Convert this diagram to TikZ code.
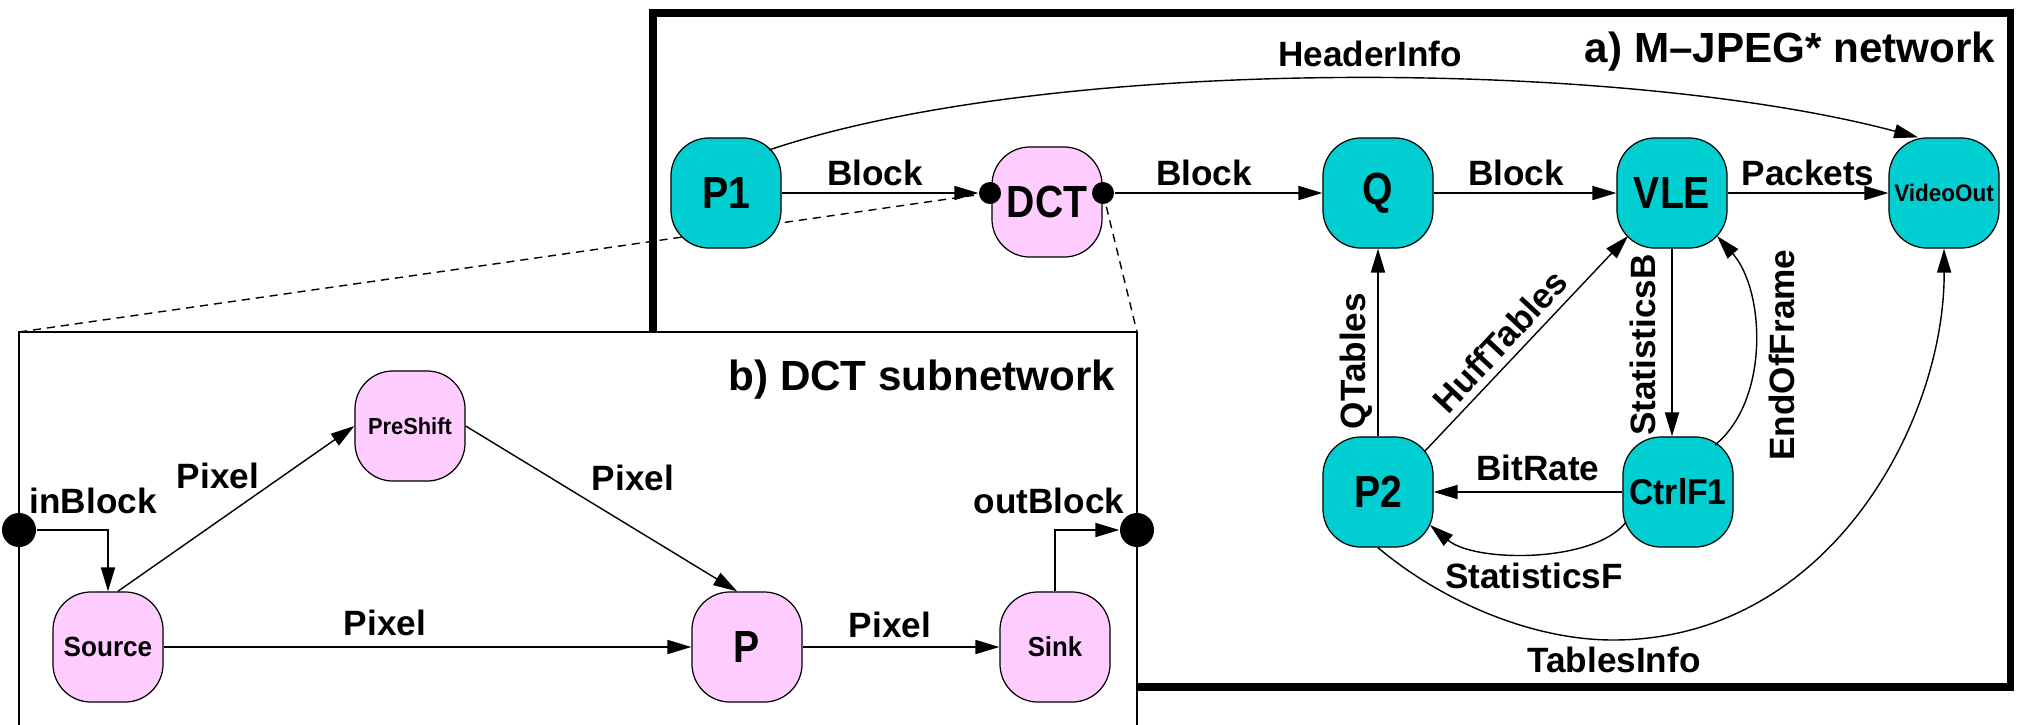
\documentclass[tikz,border=0pt]{standalone}
\usepackage{fontspec}
\setmainfont{Liberation Sans}
\newfontfamily\nodefont[FakeStretch=0.87]{Liberation Sans}
\newfontfamily\smallnodefont[FakeStretch=0.94]{Liberation Sans}
\usetikzlibrary{arrows.meta,calc}
\definecolor{teal1}{RGB}{0,206,209}
\definecolor{pink1}{RGB}{255,204,255}
\begin{document}
\begin{tikzpicture}[x=0.01cm,y=-0.01cm,
  proc/.style={draw=black,line width=0.35pt,rounded corners=0.38cm,minimum width=1.1cm,minimum height=1.1cm,inner sep=0pt,font=\nodefont\bfseries\fontsize{12.8}{13}\selectfont},
  tproc/.style={proc,fill=teal1},
  pproc/.style={proc,fill=pink1},
  port/.style={circle,fill=black,inner sep=0pt,minimum size=0.22cm},
  bigport/.style={circle,fill=black,inner sep=0pt,minimum size=0.34cm},
  lbl/.style={font=\bfseries\fontsize{10}{12}\selectfont,inner sep=0pt},
  ttl/.style={font=\bfseries\fontsize{12}{14}\selectfont,inner sep=0pt},
  arr/.style={line width=0.4pt,-{Triangle[length=6.8pt,width=4pt]}},
  dashln/.style={line width=0.4pt,dash pattern=on 2.3pt off 1.7pt}
]
\useasboundingbox (0,0) rectangle (2018,724);
\clip (0,0) rectangle (2018,724);

% frame a
\draw[line width=2pt] (653,13) rectangle (2010,687);
% frame b
\draw[fill=white,line width=0.5pt] (19,332) rectangle (1137,800);
\coordinate (bnw) at (19,332);
\coordinate (bne) at (1137,332);
\coordinate (dctinc) at (990,193);
\coordinate (dctoutc) at (1103,193);
\draw[dashln] (bnw) -- (dctinc);
\draw[dashln] (dctoutc) -- (bne);

% network a
\node[tproc] (p1) at (726,193) {P1};
\node[pproc] (dct) at (1047,202) {DCT};
\node[port] (dctin) at (dctinc) {};
\node[port] (dctout) at (dctoutc) {};
\node[tproc] (q) at (1378,193) {Q};
\node[tproc] (vle) at (1672,193) {VLE};
\node[tproc,font=\smallnodefont\bfseries\fontsize{6.8}{7}\selectfont] (vo) at (1944,193) {VideoOut};
\node[tproc] (p2) at (1378,492) {P2};
\node[tproc,font=\smallnodefont\bfseries\fontsize{10.2}{11}\selectfont] (ctrl) at (1678,492) {CtrlF1};

\draw[arr] (p1.east) -- (dctin);
\draw[arr] (dctout) -- (q.west);
\draw[arr] (q.east) -- (vle.west);
\draw[arr] (vle.east) -- (vo.west);
\draw[arr] ($(p1.center)+(43,-43)$) .. controls (1050,55) and (1620,58) .. (vo.115);
\draw[arr] (p2.north) -- (q.south);
\draw[arr] ($(p2.center)+(47,-41)$) -- ($(vle.center)+(-44,43)$);
\draw[arr] (vle.south) -- (vle.south |- ctrl.north);
\draw[arr] (ctrl.west) -- (p2.east);
\draw[arr] ($(ctrl.center)+(-52,30)$) .. controls (1595,563) and (1475,563) .. ($(p2.center)+(52,33)$);
\draw[arr] ($(ctrl.center)+(37,-47)$) .. controls (1770,400) and (1765,290) .. ($(vle.center)+(45,43)$);
\draw[arr] (p2.south) .. controls (1440,600) and (1530,640) .. (1613,640) .. controls (1830,640) and (1945,420) .. (vo.south);

\node[lbl,anchor=base] (lb1) at (875,185) {Block};
\node[lbl,anchor=base] (lb2) at (1204,185) {Block};
\node[lbl,anchor=base] (lb3) at (1516,185) {Block};
\node[lbl,anchor=base] (lpk) at (1808,185) {Packets};
\node[lbl,anchor=base] (lhi) at (1370,66) {HeaderInfo};
\node[lbl,anchor=base] (lbr) at (1538,480) {BitRate};
\node[lbl,anchor=base] (lsf) at (1534,588) {StatisticsF};
\node[lbl,anchor=base] (lti) at (1614,672) {TablesInfo};
\node[lbl,rotate=90] (lqt) at (1356,361) {QTables};
\node[lbl,rotate=90] (lsb) at (1643,345) {StatisticsB};
\node[lbl,rotate=90] (leof) at (1782,355) {EndOfFrame};
\node[lbl,rotate=47] (lht) at (1500,341) {HuffTables};
\node[ttl,anchor=base east] (ta) at (1996,62) {a) M--JPEG* network};

% subnetwork b
\node[pproc,font=\smallnodefont\bfseries\fontsize{7.9}{8}\selectfont] (src) at (108,647) {Source};
\node[pproc,font=\smallnodefont\bfseries\fontsize{6.6}{7}\selectfont] (pre) at (410,426) {PreShift};
\node[pproc] (pp) at (747,647) {P};
\node[pproc,font=\smallnodefont\bfseries\fontsize{7.8}{8}\selectfont] (snk) at (1055,647) {Sink};
\node[bigport] (inb) at (19,530) {};
\node[bigport] (outb) at (1137,530) {};

\draw[arr] (inb) -| (src.north);
\draw[arr] (snk.north) |- (outb);
\draw[arr] (src.80) -- (pre.west);
\draw[arr] (pre.east) -- (pp.100);
\draw[arr] (src.east) -- (pp.west);
\draw[arr] (pp.east) -- (snk.west);

\node[lbl,anchor=base] (px1) at (218,488) {Pixel};
\node[lbl,anchor=base] (px2) at (633,490) {Pixel};
\node[lbl,anchor=base] (px3) at (385,635) {Pixel};
\node[lbl,anchor=base] (px4) at (890,637) {Pixel};
\node[lbl,anchor=base west] (lin) at (29,513) {inBlock};
\node[lbl,anchor=base east] (lout) at (1125,513) {outBlock};
\node[ttl,anchor=base east] (tb) at (1116,390) {b) DCT subnetwork};
\end{tikzpicture}
\end{document}
